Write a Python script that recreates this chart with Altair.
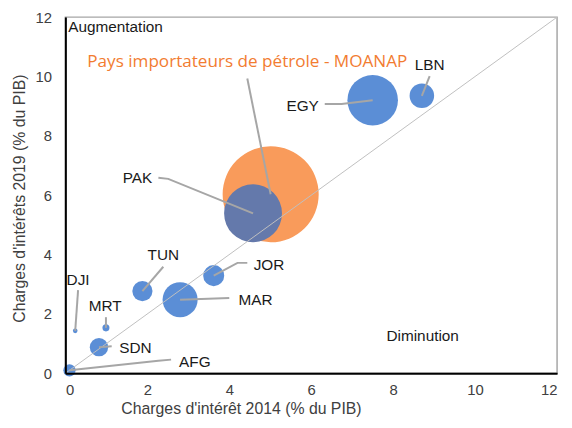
import altair as alt
import pandas as pd

# --- data ---
pays = ["MOANAP", "PAK", "EGY", "LBN", "JOR", "MAR", "TUN", "MRT", "DJI", "SDN", "AFG"]
x2014 = [5.01, 4.58, 7.5, 8.7, 3.62, 2.8, 1.88, 0.99, 0.24, 0.82, 0.1]
y2019 = [6.03, 5.39, 9.2, 9.35, 3.29, 2.48, 2.77, 1.53, 1.43, 0.88, 0.1]
taille = [3000, 1090, 830, 196, 144, 400, 132, 16, 7, 110, 49]
etiquette = ["Pays importateurs de pétrole - MOANAP", "PAK", "EGY", "LBN", "JOR", "MAR",
             "TUN", "MRT", "DJI", "SDN", "AFG"]
etiq_x = [4.44, 1.76, 5.79, 8.89, 4.97, 4.64, 2.39, 0.97, 0.31, 1.71, 3.16]
etiq_y = [10.5, 6.59, 9.0, 10.4, 3.65, 2.48, 3.98, 2.28, 3.13, 0.85, 0.39]
# leader lines: points from label side to bubble centre
guide_pays = ["MOANAP", "MOANAP", "PAK", "PAK", "PAK", "EGY", "EGY", "EGY", "LBN", "LBN",
              "JOR", "JOR", "JOR", "MAR", "MAR", "TUN", "TUN", "DJI", "DJI", "MRT", "MRT",
              "SDN", "SDN", "AFG", "AFG", "AFG"]
guide_x = [4.44, 5.01, 2.27, 2.51, 4.58, 6.33, 6.74, 7.5, 8.89, 8.7,
           4.44, 4.2, 3.62, 4.0, 2.8, 2.39, 1.88, 0.31, 0.24, 0.99, 0.99,
           1.13, 0.82, 2.58, 2.27, 0.1]
guide_y = [9.93, 6.03, 6.59, 6.55, 5.39, 9.07, 9.07, 9.2, 10.01, 9.35,
           3.72, 3.72, 3.29, 2.54, 2.48, 3.59, 2.77, 2.8, 1.43, 1.89, 1.53,
           0.91, 0.88, 0.46, 0.42, 0.1]
diag = [0, 12]
zones = ["Augmentation", "Diminution"]
zones_x = [0.07, 8.72]
zones_y = [11.67, 1.24]
zones_align = ["left", "center"]
ticks = [0, 2, 4, 6, 8, 10, 12]

df = pd.DataFrame({"pays": pays, "x": x2014, "y": y2019, "taille": taille,
                   "etiq": etiquette, "ex": etiq_x, "ey": etiq_y})
dguide = pd.DataFrame({"pays": guide_pays, "x": guide_x, "y": guide_y})
dguide["ordre"] = range(len(dguide))
ddiag = pd.DataFrame({"x": diag, "y": diag})
dzones = pd.DataFrame({"t": zones, "x": zones_x, "y": zones_y, "al": zones_align})

xs = alt.Scale(domain=[0, 12], nice=False, zero=True)
ys = alt.Scale(domain=[0, 12], nice=False, zero=True)
ax_common = dict(values=ticks, grid=False, ticks=False, domainColor="#000000",
                 domainWidth=2, labelFont="Liberation Sans", labelFontSize=15,
                 labelColor="#404040", titleFont="Liberation Sans", titleFontSize=16,
                 titleColor="#404040", titleFontWeight="normal", zindex=1)
xax = alt.Axis(title="Charges d'intérêt 2014 (% du PIB)", labelPadding=9,
               titleAnchor="start", titleAlign="left", titleX=56, titleY=41,
               titleBaseline="alphabetic", **ax_common)
yax = alt.Axis(title="Charges d'intérêts 2019 (% du PIB)", labelPadding=14,
               titleAngle=-90, titleX=-41, titleY=183, titleAlign="center",
               titleBaseline="alphabetic", **ax_common)

size_enc = alt.Size("taille:Q", scale=alt.Scale(domain=[0, 3000], range=[0, 3000 * 3.1416]),
                    legend=None)

base = alt.Chart(df)
orange = base.transform_filter("datum.pays === 'MOANAP'").mark_circle(
    opacity=1, color="#F99B5B").encode(
    x=alt.X("x:Q", scale=xs, axis=xax), y=alt.Y("y:Q", scale=ys, axis=yax), size=size_enc)
bleus = base.transform_filter("datum.pays !== 'MOANAP'").mark_circle(opacity=1).encode(
    x=alt.X("x:Q", scale=xs), y=alt.Y("y:Q", scale=ys), size=size_enc,
    color=alt.condition("datum.pays === 'PAK'", alt.value("#6479AB"), alt.value("#5B8ED6")))
diagonale = alt.Chart(ddiag).mark_line(color="#BFBFBF", strokeWidth=1).encode(
    x=alt.X("x:Q", scale=xs), y=alt.Y("y:Q", scale=ys))
guides = alt.Chart(dguide).mark_line(color="#A6A6A6", strokeWidth=2).encode(
    x=alt.X("x:Q", scale=xs), y=alt.Y("y:Q", scale=ys), detail="pays:N", order="ordre:Q")
labels = base.transform_filter("datum.pays !== 'MOANAP'").mark_text(
    font="Liberation Sans", fontSize=15.5, color="#1A1A1A", baseline="middle").encode(
    x=alt.X("ex:Q", scale=xs), y=alt.Y("ey:Q", scale=ys), text="etiq:N")
titre = base.transform_filter("datum.pays === 'MOANAP'").mark_text(
    font="Open Sans", fontSize=17.3, color="#F27C31", baseline="middle").encode(
    x=alt.X("ex:Q", scale=xs), y=alt.Y("ey:Q", scale=ys), text="etiq:N")
zone_a = alt.Chart(dzones).transform_filter("datum.al === 'left'").mark_text(
    font="Liberation Sans", fontSize=15.5, color="#1A1A1A", baseline="middle", align="left").encode(
    x=alt.X("x:Q", scale=xs), y=alt.Y("y:Q", scale=ys), text="t:N")
zone_d = alt.Chart(dzones).transform_filter("datum.al === 'center'").mark_text(
    font="Liberation Sans", fontSize=15.5, color="#1A1A1A", baseline="middle", align="center").encode(
    x=alt.X("x:Q", scale=xs), y=alt.Y("y:Q", scale=ys), text="t:N")

chart = alt.layer(orange, bleus, diagonale, guides, labels, titre, zone_a, zone_d).properties(
    width=497, height=360, autosize="none",
    padding={"left": 58, "top": 7, "right": 7, "bottom": 45},
).configure_view(stroke="#A6A6A6", strokeWidth=1.5)

chart.save("out.html", embed_options={"renderer": "svg", "actions": False})
